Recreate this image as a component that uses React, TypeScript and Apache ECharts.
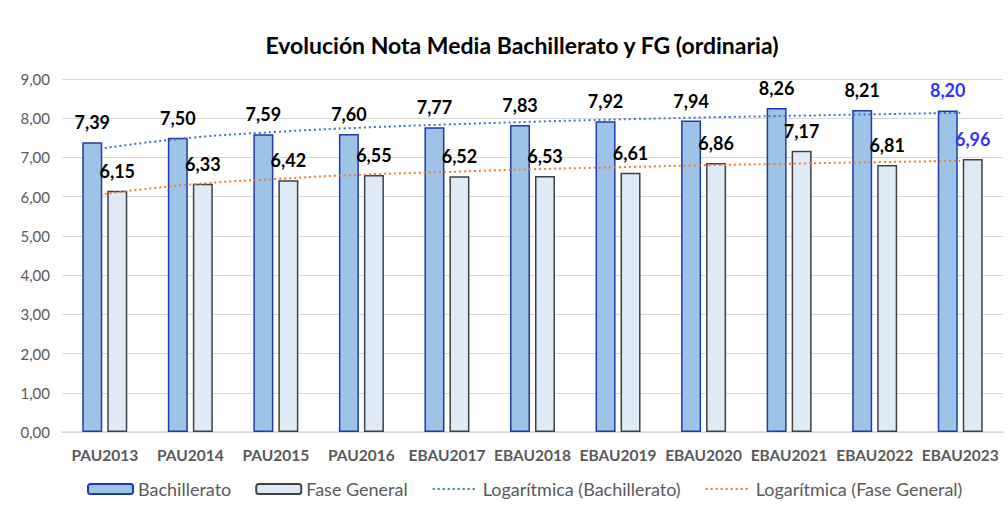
import React, { useEffect, useRef } from "react";
import * as echarts from "echarts";

const categories = ["PAU2013", "PAU2014", "PAU2015", "PAU2016", "EBAU2017", "EBAU2018", "EBAU2019", "EBAU2020", "EBAU2021", "EBAU2022", "EBAU2023"];
const bachillerato = [7.39, 7.5, 7.59, 7.6, 7.77, 7.83, 7.92, 7.94, 8.26, 8.21, 8.2];
const faseGeneral = [6.15, 6.33, 6.42, 6.55, 6.52, 6.53, 6.61, 6.86, 7.17, 6.81, 6.96];
const trendBach = [7.24, 7.5, 7.65, 7.76, 7.84, 7.91, 7.97, 8.02, 8.06, 8.1, 8.14];
const trendFase = [6.07, 6.31, 6.45, 6.56, 6.63, 6.7, 6.75, 6.8, 6.84, 6.88, 6.91];
const yTicks = [0, 1, 2, 3, 4, 5, 6, 7, 8, 9];

const FONT = "Lato, 'Open Sans', sans-serif";
const fmt = (v: number) => v.toFixed(2).replace(".", ",");

export default function App() {
  const ref = useRef<HTMLDivElement>(null);
  useEffect(() => {
    if (!ref.current) return;
    const chart = echarts.init(ref.current, undefined, { renderer: "svg" });
    const lastIdx = categories.length - 1;
    const labelFor = (idx: number) => ({
      show: true,
      position: "top" as const,
      distance: 11,
      fontFamily: FONT,
      fontWeight: "bold" as const,
      fontSize: 18,
      color: idx === lastIdx ? "#3333FF" : "#000000",
      formatter: (p: any) => fmt(p.value),
    });
    chart.setOption({
      animation: false,
      backgroundColor: "#ffffff",
      title: {
        text: "Evolución Nota Media Bachillerato y FG (ordinaria)",
        left: 517,
        top: 28,
        textAlign: "center",
        textStyle: { fontFamily: FONT, fontWeight: "bold", fontSize: 23, color: "#000000" },
      },
      grid: { left: 62, right: 5, top: 79, bottom: 77, containLabel: false },
      legend: {
        bottom: 6,
        left: 82,
        itemWidth: 45,
        itemHeight: 10,
        itemGap: 24,
        textStyle: { fontFamily: FONT, fontSize: 18, color: "#595959" },
        data: [
          { name: "Bachillerato" },
          { name: "Fase General" },
          { name: "Logarítmica (Bachillerato)", itemStyle: { opacity: 0 } },
          { name: "Logarítmica (Fase General)", itemStyle: { opacity: 0 } },
        ],
      },
      xAxis: {
        type: "category",
        data: categories,
        axisLine: { lineStyle: { color: "#D9D9D9", width: 1.5 } },
        axisTick: { show: false },
        axisLabel: { fontFamily: FONT, fontWeight: "bold", fontSize: 15.5, color: "#595959", margin: 15, interval: 0 },
      },
      yAxis: {
        type: "value",
        min: yTicks[0],
        max: yTicks[yTicks.length - 1],
        interval: 1,
        axisLabel: { fontFamily: FONT, fontSize: 15, color: "#595959", margin: 12, formatter: (v: number) => fmt(v) },
        splitLine: { lineStyle: { color: "#D9D9D9", width: 1 } },
        axisLine: { show: false },
        axisTick: { show: false },
      },
      series: [
        {
          name: "Bachillerato",
          type: "bar",
          barWidth: 20,
          barGap: "25%",
          data: bachillerato.map((v, i) => ({ value: v, label: labelFor(i) })),
          itemStyle: { color: "#9DC3E6", borderColor: "#1F3BA6", borderWidth: 1.5 },
        },
        {
          name: "Fase General",
          type: "bar",
          barWidth: 20,
          barGap: "25%",
          data: faseGeneral.map((v, i) => ({ value: v, label: labelFor(i) })),
          itemStyle: { color: "#DEEBF7", borderColor: "#404040", borderWidth: 1.5 },
        },
        {
          name: "Logarítmica (Bachillerato)",
          type: "line",
          smooth: true,
          symbol: "none",
          data: trendBach,
          lineStyle: { color: "#4472C4", width: 2, type: [2, 3] },
          itemStyle: { color: "#4472C4" },
          z: 5,
        },
        {
          name: "Logarítmica (Fase General)",
          type: "line",
          smooth: true,
          symbol: "none",
          data: trendFase,
          lineStyle: { color: "#ED7D31", width: 2, type: [2, 3] },
          itemStyle: { color: "#ED7D31" },
          z: 5,
        },
      ],
    });
    return () => chart.dispose();
  }, []);
  return <div ref={ref} style={{ width: 1008, height: 509, position: "absolute", left: 0, top: 0 }} />;
}
